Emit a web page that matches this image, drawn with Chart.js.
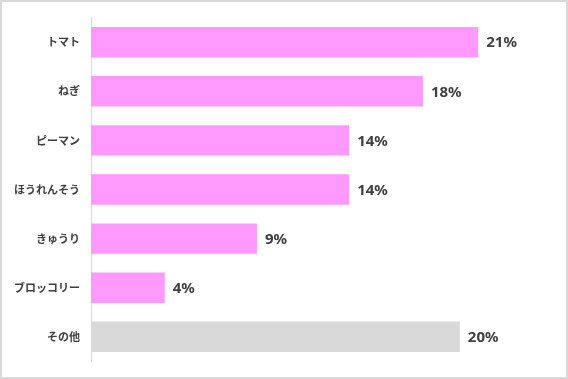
<!DOCTYPE html>
<html>
<head>
<meta charset="utf-8">
<script src="https://cdn.jsdelivr.net/npm/chart.js@4/dist/chart.umd.min.js"></script>
<style>
  html, body { margin: 0; padding: 0; background: #fff; }
  #wrap { position: relative; width: 568px; height: 379px; }
</style>
</head>
<body>
<div id="wrap"><canvas id="chart" width="568" height="379"></canvas></div>
<script>
const categories = ['トマト', 'ねぎ', 'ピーマン', 'ほうれんそう', 'きゅうり', 'ブロッコリー', 'その他'];
const shares = [21, 18, 14, 14, 9, 4, 20];
const barColors = ['#ff99ff', '#ff99ff', '#ff99ff', '#ff99ff', '#ff99ff', '#ff99ff', '#d9d9d9'];

// value labels at the end of each bar
const valueLabels = {
    id: 'valueLabels',
    afterDatasetsDraw(chart) {
        const { ctx } = chart;
        const meta = chart.getDatasetMeta(0);
        ctx.save();
        ctx.font = 'bold 15px "Noto Sans", sans-serif';
        ctx.fillStyle = '#404040';
        ctx.textAlign = 'left';
        ctx.textBaseline = 'middle';
        meta.data.forEach((bar, i) => {
            ctx.fillText(shares[i] + '%', bar.x + 8, bar.y + 1);
        });
        ctx.restore();
    },
};

// light frame round the whole picture
const frame = {
    id: 'frame',
    afterDraw(chart) {
        const { ctx, width, height } = chart;
        ctx.save();
        ctx.strokeStyle = '#d9d9d9';
        ctx.lineWidth = 2;
        ctx.strokeRect(1, 1, width - 2, height - 2);
        ctx.restore();
    },
};

new Chart(document.getElementById('chart'), {
    type: 'bar',
    data: {
        labels: categories,
        datasets: [
            {
                data: shares,
                backgroundColor: barColors,
                borderWidth: 0,
                categoryPercentage: 1,
                barPercentage: 0.62,
            },
        ],
    },
    options: {
        indexAxis: 'y',
        responsive: false,
        animation: false,
        events: [],
        layout: { padding: { top: 14, bottom: 16, right: 16, left: 0 } },
        plugins: {
            legend: { display: false },
            tooltip: { enabled: false },
        },
        scales: {
            x: {
                display: false,
                min: 0,
                max: 25,
            },
            y: {
                afterFit: (scale) => { scale.width = 91; },
                grid: { display: false, drawTicks: false },
                border: { display: true, color: '#d9d9d9', width: 1 },
                ticks: {
                    padding: 11,
                    color: '#404040',
                    font: { family: '"Noto Sans CJK JP", sans-serif', size: 11, weight: 'bold' },
                },
            },
        },
    },
    plugins: [valueLabels, frame],
});
</script>
</body>
</html>
